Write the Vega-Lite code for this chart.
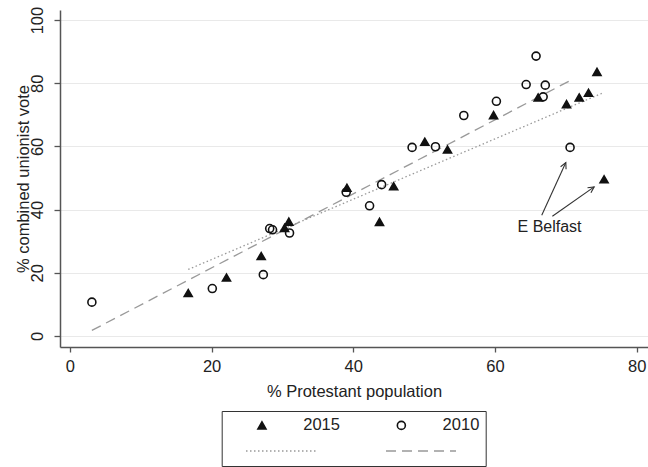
{
  "$schema": "https://vega.github.io/schema/vega-lite/v6.json",
  "width": 588,
  "height": 337,
  "autosize": {"type": "none"},
  "padding": {"left": 60, "top": 10, "right": 0, "bottom": 120},
  "background": "white",
  "config": {
    "view": {"stroke": null},
    "font": "Liberation Sans",
    "axis": {
      "domainColor": "#555555",
      "tickColor": "#555555",
      "domainWidth": 1.5,
      "tickWidth": 1.3,
      "labelFontSize": 16.5,
      "titleFontSize": 16.5,
      "labelColor": "#222222",
      "titleColor": "#222222",
      "titleFontWeight": "normal",
      "labelFont": "Liberation Sans",
      "titleFont": "Liberation Sans"
    }
  },
  "datasets": {
    "points": [
      {"year": "2015", "protestant": 16.7, "unionist": 13.6},
      {"year": "2015", "protestant": 22.1, "unionist": 18.5},
      {"year": "2015", "protestant": 27.0, "unionist": 25.3},
      {"year": "2015", "protestant": 30.3, "unionist": 34.2},
      {"year": "2015", "protestant": 30.9, "unionist": 36.2},
      {"year": "2015", "protestant": 39.1, "unionist": 46.9},
      {"year": "2015", "protestant": 43.7, "unionist": 36.1},
      {"year": "2015", "protestant": 45.7, "unionist": 47.4},
      {"year": "2015", "protestant": 50.1, "unionist": 61.5},
      {"year": "2015", "protestant": 53.3, "unionist": 59.0},
      {"year": "2015", "protestant": 59.8, "unionist": 69.9},
      {"year": "2015", "protestant": 66.1, "unionist": 75.5},
      {"year": "2015", "protestant": 70.1, "unionist": 73.4},
      {"year": "2015", "protestant": 71.9, "unionist": 75.5},
      {"year": "2015", "protestant": 73.2, "unionist": 77.0},
      {"year": "2015", "protestant": 74.4, "unionist": 83.6},
      {"year": "2015", "protestant": 75.4, "unionist": 49.6},
      {"year": "2010", "protestant": 3.1, "unionist": 10.7},
      {"year": "2010", "protestant": 20.1, "unionist": 15.0},
      {"year": "2010", "protestant": 27.3, "unionist": 19.4},
      {"year": "2010", "protestant": 28.2, "unionist": 34.0},
      {"year": "2010", "protestant": 28.6, "unionist": 33.6},
      {"year": "2010", "protestant": 31.0, "unionist": 32.6},
      {"year": "2010", "protestant": 39.0, "unionist": 45.5},
      {"year": "2010", "protestant": 42.3, "unionist": 41.2},
      {"year": "2010", "protestant": 44.0, "unionist": 47.9},
      {"year": "2010", "protestant": 48.3, "unionist": 59.7},
      {"year": "2010", "protestant": 51.6, "unionist": 59.9},
      {"year": "2010", "protestant": 55.6, "unionist": 69.8},
      {"year": "2010", "protestant": 60.2, "unionist": 74.3},
      {"year": "2010", "protestant": 64.4, "unionist": 79.6},
      {"year": "2010", "protestant": 65.8, "unionist": 88.6},
      {"year": "2010", "protestant": 66.8, "unionist": 75.7},
      {"year": "2010", "protestant": 67.1, "unionist": 79.4},
      {"year": "2010", "protestant": 70.6, "unionist": 59.7}
    ],
    "fits": [
      {"fit": "2015 fit", "protestant": 16.7, "unionist": 21.05},
      {"fit": "2015 fit", "protestant": 75.4, "unionist": 77.1},
      {"fit": "2010 fit", "protestant": 3.1, "unionist": 1.74},
      {"fit": "2010 fit", "protestant": 70.6, "unionist": 80.85}
    ],
    "arrows": [
      {"id": "a1", "x1": 66.6, "y1": 38.2, "x2": 70.0, "y2": 54.9},
      {"id": "a2", "x1": 68.1, "y1": 37.9, "x2": 74.0, "y2": 47.2}
    ],
    "labels": [
      {"label": "E Belfast", "protestant": 67.7, "unionist": 34.5}
    ]
  },
  "encoding": {
    "x": {
      "field": "protestant",
      "type": "quantitative",
      "scale": {"domain": [-1.4, 81.6], "nice": false, "zero": false},
      "axis": {
        "title": "% Protestant population",
        "values": [0, 20, 40, 60, 80],
        "grid": false,
        "tickSize": 5,
        "labelPadding": 6,
        "titlePadding": 9
      }
    },
    "y": {
      "field": "unionist",
      "type": "quantitative",
      "scale": {"domain": [-3.5, 103.2], "nice": false, "zero": false},
      "axis": {
        "title": "% combined unionist vote",
        "values": [0, 20, 40, 60, 80, 100],
        "grid": true,
        "gridColor": "#e9e9e9",
        "gridWidth": 1.2,
        "tickSize": 6,
        "labelAngle": -90,
        "labelPadding": 9,
        "titlePadding": -2
      }
    }
  },
  "layer": [
    {
      "data": {"name": "fits"},
      "mark": {"type": "line", "stroke": "#999999", "strokeWidth": 1.3},
      "encoding": {
        "strokeDash": {
          "field": "fit",
          "type": "nominal",
          "scale": {"domain": ["2015 fit", "2010 fit"], "range": [[1.5, 2.5], [10, 6]]},
          "legend": {
            "orient": "none",
            "legendX": 185,
            "legendY": 437,
            "direction": "horizontal",
            "title": null,
            "symbolType": "stroke",
            "symbolSize": 4900,
            "clipHeight": 8,
            "labelExpr": "''",
            "labelOffset": 0,
            "columnPadding": 68,
            "padding": 0,
            "symbolStrokeColor": "#999999",
            "symbolStrokeWidth": 1.3
          }
        }
      }
    },
    {
      "data": {"name": "points"},
      "mark": {"type": "point", "filled": false, "strokeWidth": 1.6, "size": 64, "opacity": 1},
      "encoding": {
        "shape": {
          "field": "year",
          "type": "nominal",
          "scale": {"domain": ["2015", "2010"], "range": ["triangle-up", "circle"]},
          "legend": {
            "orient": "none",
            "legendX": 161.7,
            "legendY": 401,
            "direction": "horizontal",
            "title": " ",
            "titleOrient": "bottom",
            "titleFontSize": 16,
            "titlePadding": 10,
            "padding": 6,
            "strokeColor": "#333333",
            "symbolOffset": 26,
            "labelOffset": 33,
            "columnPadding": 26.4,
            "labelFontSize": 16.5,
            "labelColor": "#222222",
            "labelFont": "Liberation Sans",
            "symbolSize": 64,
            "symbolStrokeWidth": 1.6
          }
        },
        "fill": {
          "field": "year",
          "type": "nominal",
          "scale": {"domain": ["2015", "2010"], "range": ["#111111", "transparent"]}
        },
        "stroke": {
          "field": "year",
          "type": "nominal",
          "scale": {"domain": ["2015", "2010"], "range": ["#111111", "#111111"]}
        }
      }
    },
    {
      "data": {"name": "arrows"},
      "mark": {"type": "rule", "stroke": "#333333", "strokeWidth": 1.1},
      "encoding": {
        "x": {"field": "x1", "type": "quantitative"},
        "y": {"field": "y1", "type": "quantitative"},
        "x2": {"field": "x2"},
        "y2": {"field": "y2"}
      }
    },
    {
      "data": {"name": "arrows"},
      "transform": [{"filter": "datum.id === 'a1'"}],
      "mark": {"type": "point", "shape": "M-0.5,1 L0,0 L0.5,1", "filled": false, "stroke": "#333333", "strokeWidth": 1.1, "size": 144, "angle": 24.5, "opacity": 1},
      "encoding": {
        "x": {"field": "x2", "type": "quantitative"},
        "y": {"field": "y2", "type": "quantitative"}
      }
    },
    {
      "data": {"name": "arrows"},
      "transform": [{"filter": "datum.id === 'a2'"}],
      "mark": {"type": "point", "shape": "M-0.5,1 L0,0 L0.5,1", "filled": false, "stroke": "#333333", "strokeWidth": 1.1, "size": 144, "angle": 55.3, "opacity": 1},
      "encoding": {
        "x": {"field": "x2", "type": "quantitative"},
        "y": {"field": "y2", "type": "quantitative"}
      }
    },
    {
      "data": {"name": "labels"},
      "mark": {"type": "text", "fontSize": 16, "font": "Liberation Sans", "color": "#222222", "align": "center", "baseline": "middle"},
      "encoding": {
        "text": {"field": "label", "type": "nominal"}
      }
    }
  ]
}
